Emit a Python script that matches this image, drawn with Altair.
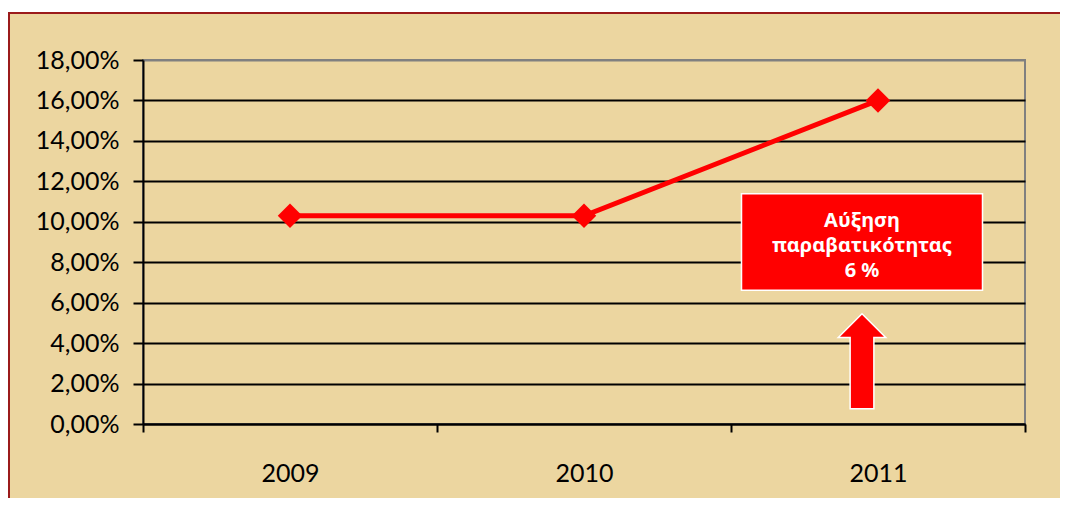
import altair as alt
import pandas as pd

years = ["2009", "2010", "2011"]
rates = [0.103, 0.103, 0.16]
y_ticks = [0, 0.02, 0.04, 0.06, 0.08, 0.10, 0.12, 0.14, 0.16, 0.18]
note_lines = ["Αύξηση", "παραβατικότητας", "6 %"]
note_year = "2011"
note_box_y = 0.09
note_text_y = 0.1005
arrow_y = 0.031

RED = "#FF0000"
BG = "#ECD6A0"
BORDER = "#9B1B1B"

df = pd.DataFrame({"year": years, "rate": rates})
one = pd.DataFrame({"d": [0]})

xenc = alt.X(
    "year:N",
    sort=years,
    bandPosition=0.5,
    scale=alt.Scale(type="band", paddingInner=0, paddingOuter=0),
    axis=alt.Axis(
        title="",
        labelAngle=0,
        labelFont="Lato",
        labelFontSize=25,
        labelColor="black",
        labelPadding=29,
        tickBand="extent",
        tickSize=8,
        tickWidth=2,
        tickColor="black",
        domainColor="black",
        domainWidth=2,
        grid=False,
    ),
)
yscale = alt.Scale(domain=[0, 0.18], nice=False, zero=True)
yenc = alt.Y(
    "rate:Q",
    scale=yscale,
    axis=alt.Axis(
        title="",
        values=y_ticks,
        labelExpr="replace(format(datum.value, '.2%'), '.', ',')",
        labelFont="Lato",
        labelFontSize=25,
        labelColor="black",
        labelPadding=14,
        tickSize=10,
        tickWidth=2,
        tickColor="black",
        domainColor="black",
        domainWidth=2,
        grid=True,
        gridColor=alt.condition("datum.value >= 0.18", alt.value("#808080"), alt.value("black")),
        gridWidth=2,
    ),
)

white_strip = alt.Chart(one).mark_rect(color="white").encode(
    x=alt.value(-140), x2=alt.value(1000), y=alt.value(-60), y2=alt.value(-48)
)
border_top = alt.Chart(one).mark_rule(color=BORDER, strokeWidth=2).encode(
    x=alt.value(-135), x2=alt.value(1000), y=alt.value(-47)
)
border_left = alt.Chart(one).mark_rule(color=BORDER, strokeWidth=2).encode(
    x=alt.value(-134), y=alt.value(-48), y2=alt.value(600)
)

line = alt.Chart(df).mark_line(color=RED, strokeWidth=5).encode(x=xenc, y=yenc)
pts = alt.Chart(df).mark_point(shape="diamond", filled=True, color=RED, opacity=1, size=600).encode(x=xenc, y=yenc)

note_df = pd.DataFrame({"year": [note_year], "box": [note_box_y], "ty": [note_text_y], "ay": [arrow_y], "txt": [note_lines]})

xnote = alt.X("year:N", sort=years, bandPosition=0.5)
box = alt.Chart(note_df).mark_point(
    shape="M-1,-0.4L1,-0.4L1,0.4L-1,0.4Z",
    filled=True, fill=RED, stroke="white", strokeWidth=1.5, opacity=1,
    size=241 * 241, xOffset=-16,
).encode(x=xnote, y=alt.Y("box:Q", scale=yscale))
txt = alt.Chart(note_df).mark_text(
    font="Noto Sans", fontSize=20, fontWeight="bold", color="white",
    align="center", baseline="middle", lineHeight=25, xOffset=-16,
).encode(x=xnote, y=alt.Y("ty:Q", scale=yscale), text="txt")
arrow = alt.Chart(note_df).mark_point(
    shape="M0,-1L0.5,-0.5L0.25,-0.5L0.25,1L-0.25,1L-0.25,-0.5L-0.5,-0.5Z",
    filled=True, fill=RED, stroke="white", strokeWidth=1.5, opacity=1,
    size=95 * 95, xOffset=-16,
).encode(x=xnote, y=alt.Y("ay:Q", scale=yscale))

chart = alt.layer(white_strip, border_top, border_left, line, pts, box, txt, arrow).properties(
    width=882,
    height=364,
    autosize=alt.AutoSizeParams(type="none"),
    padding={"left": 135, "top": 52, "right": 35, "bottom": 74},
    background=BG,
).configure_view(stroke="#808080", strokeWidth=2)

chart.save("out.html", embed_options={"renderer": "svg", "actions": False})
